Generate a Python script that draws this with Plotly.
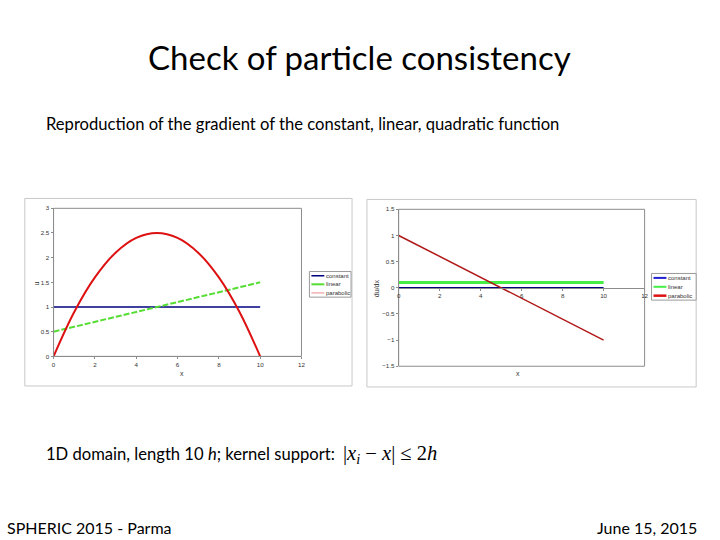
import plotly.graph_objects as go

# ---- data ----
x_pts = [0, 1, 2, 3, 4, 5, 6, 7, 8, 9, 10]
u_constant = [1, 1, 1, 1, 1, 1, 1, 1, 1, 1, 1]
u_linear = [0.5, 0.6, 0.7, 0.8, 0.9, 1.0, 1.1, 1.2, 1.3, 1.4, 1.5]
u_parabolic = [0, 0.9, 1.6, 2.1, 2.4, 2.5, 2.4, 2.1, 1.6, 0.9, 0]

dx_pts = [0, 10]
du_constant = [0, 0]
du_linear = [0.1, 0.1]
du_parabolic = [1, -1]

series_names = ["constant", "linear", "parabolic"]
x_ticks = [0, 2, 4, 6, 8, 10, 12]
u_ticks = [0, 0.5, 1, 1.5, 2, 2.5, 3]
du_ticks = [-1.5, -1, -0.5, 0, 0.5, 1, 1.5]

W, H = 720, 540
def X(p): return p / W
def Y(p): return 1 - p / H

NAVY = "#000080"
GREEN_L = "#55dd33"
RED_L = "#dd1111"
GREEN_R = "#44ee44"
RED_R = "#b01818"
PINK = "#f0b0b0"
GRID = "#8c8c8c"
TICKFONT = dict(family="Liberation Sans", size=6.2, color="#333333")

fig = go.Figure()

# left chart
fig.add_trace(go.Scatter(x=x_pts, y=u_constant, mode="lines", name=series_names[0],
                         line=dict(color=NAVY, width=1.5), xaxis="x", yaxis="y", showlegend=False))
fig.add_trace(go.Scatter(x=x_pts, y=u_linear, mode="lines", name=series_names[1],
                         line=dict(color=GREEN_L, width=2, dash="6px,2px"), xaxis="x", yaxis="y", showlegend=False))
fig.add_trace(go.Scatter(x=x_pts, y=u_parabolic, mode="lines", name=series_names[2],
                         line=dict(color=RED_L, width=2, shape="spline"), xaxis="x", yaxis="y", showlegend=False))

# right chart
fig.add_trace(go.Scatter(x=dx_pts, y=du_linear, mode="lines", name=series_names[1],
                         line=dict(color=GREEN_R, width=3), xaxis="x2", yaxis="y2", showlegend=False))
fig.add_trace(go.Scatter(x=dx_pts, y=du_constant, mode="lines", name=series_names[0],
                         line=dict(color=NAVY, width=1.5), xaxis="x2", yaxis="y2", showlegend=False))
fig.add_trace(go.Scatter(x=dx_pts, y=du_parabolic, mode="lines", name=series_names[2],
                         line=dict(color=RED_R, width=1.5), xaxis="x2", yaxis="y2", showlegend=False))

ydom1 = [Y(357), Y(207)]
ydom2 = [Y(367), Y(208)]
axis_common = dict(showgrid=False, zeroline=False, showline=True, linecolor=GRID, linewidth=1,
                   ticks="outside", ticklen=2, tickcolor=GRID, tickfont=TICKFONT)

fig.update_layout(
    width=W, height=H, margin=dict(l=0, r=0, t=0, b=0),
    paper_bgcolor="white", plot_bgcolor="white", showlegend=False,
    xaxis=dict(domain=[X(52), X(302)], range=[0, 12], tickvals=x_ticks, anchor="y", **axis_common),
    yaxis=dict(domain=ydom1, range=[0, 3], tickvals=u_ticks, anchor="x", **axis_common),
    xaxis2=dict(domain=[X(400), X(648)], range=[0, 12], tickvals=x_ticks, anchor="free",
                position=(ydom2[0] + ydom2[1]) / 2, **axis_common),
    yaxis2=dict(domain=ydom2, range=[-1.5, 1.5], tickvals=du_ticks, anchor="x2", **axis_common),
)

shapes = []
# chart boxes
shapes.append(dict(type="rect", xref="paper", yref="paper", x0=X(23), x1=X(353), y0=Y(387), y1=Y(197),
                   line=dict(color="#c8c8c8", width=1)))
shapes.append(dict(type="rect", xref="paper", yref="paper", x0=X(368), x1=X(700), y0=Y(388), y1=Y(198),
                   line=dict(color="#c8c8c8", width=1)))
# plot area borders
for xr, yr in [("x domain", "y domain"), ("x2 domain", "y2 domain")]:
    shapes.append(dict(type="rect", xref=xr, yref=yr, x0=0, x1=1, y0=0, y1=1,
                       line=dict(color=GRID, width=1), layer="below"))

annotations = []

def legend_box(x0, x1, y0, y1, colors, widths):
    shapes.append(dict(type="rect", xref="paper", yref="paper", x0=X(x0), x1=X(x1), y0=Y(y1), y1=Y(y0),
                       line=dict(color="#9a9a9a", width=1), fillcolor="white"))
    step = (y1 - y0) / 3
    for i, (name, c, w) in enumerate(zip(series_names, colors, widths)):
        yc = y0 + step * (i + 0.5)
        shapes.append(dict(type="line", xref="paper", yref="paper", x0=X(x0 + 2), x1=X(x0 + 15),
                           y0=Y(yc), y1=Y(yc), line=dict(color=c, width=w)))
        annotations.append(dict(xref="paper", yref="paper", x=X(x0 + 15), y=Y(yc), text=name,
                                showarrow=False, xanchor="left", yanchor="middle",
                                font=dict(family="Liberation Sans", size=6, color="#333333")))

legend_box(310, 352, 271, 297, [NAVY, GREEN_L, PINK], [1.5, 2, 1.5])
legend_box(655, 700, 273, 300, ["#2020d0", GREEN_R, RED_L], [2, 2, 2.5])

# axis titles
annotations += [
    dict(xref="paper", yref="paper", x=X(29), y=Y(283), text="u", textangle=-90, showarrow=False,
         font=dict(family="Liberation Sans", size=7, color="#333")),
    dict(xref="paper", yref="paper", x=X(177), y=Y(380), text="x", showarrow=False,
         font=dict(family="Liberation Sans", size=7, color="#333")),
    dict(xref="paper", yref="paper", x=X(377), y=Y(288), text="du/dx", textangle=-90, showarrow=False,
         font=dict(family="Liberation Sans", size=7, color="#333")),
    dict(xref="paper", yref="paper", x=X(524), y=Y(380), text="x", showarrow=False,
         font=dict(family="Liberation Sans", size=7, color="#333")),
]

# slide texts
SLIDE = "Lato"
annotations += [
    dict(xref="paper", yref="paper", x=0.5, y=Y(54), text="Check of particle consistency",
         showarrow=False, xanchor="center", yanchor="middle", font=dict(family=SLIDE, size=33, color="black")),
    dict(xref="paper", yref="paper", x=X(42), y=Y(122),
         text="Reproduction of the gradient of the constant, linear, quadratic function",
         showarrow=False, xanchor="left", yanchor="middle", font=dict(family=SLIDE, size=16.6, color="black")),
    dict(xref="paper", yref="paper", x=X(42), y=Y(456),
         text="1D domain, length 10 <i>h</i>; kernel support:",
         showarrow=False, xanchor="left", yanchor="middle", font=dict(family=SLIDE, size=16.6, color="black")),
    dict(xref="paper", yref="paper", x=X(342), y=Y(456),
         text="|<i>x<sub>i</sub></i> − <i>x</i>| ≤ 2<i>h</i>",
         showarrow=False, xanchor="left", yanchor="middle",
         font=dict(family="Liberation Serif", size=20.5, color="black")),
    dict(xref="paper", yref="paper", x=X(3), y=Y(530), text="SPHERIC 2015 - Parma",
         showarrow=False, xanchor="left", yanchor="middle", font=dict(family=SLIDE, size=16, color="black")),
    dict(xref="paper", yref="paper", x=X(703), y=Y(530), text="June 15, 2015",
         showarrow=False, xanchor="right", yanchor="middle", font=dict(family=SLIDE, size=16, color="black")),
]

fig.update_layout(shapes=shapes, annotations=annotations)
fig.write_html("out.html", config={"displayModeBar": False},
               post_script="document.body.style.margin='0';document.body.style.overflow='hidden';")
